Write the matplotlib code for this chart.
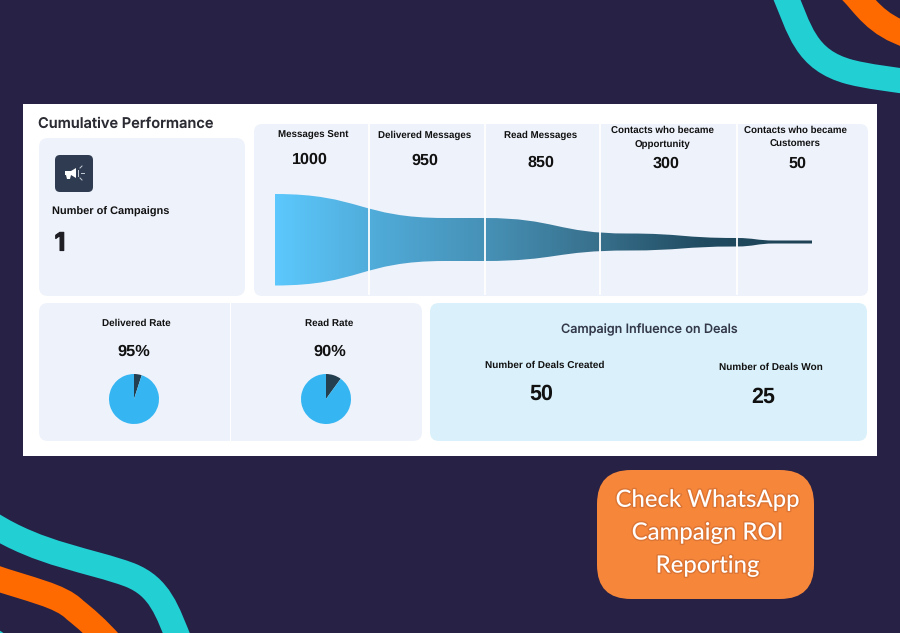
import matplotlib
matplotlib.use("Agg")
import matplotlib.pyplot as plt
import numpy as np
from matplotlib.colors import LinearSegmentedColormap
from matplotlib.patches import FancyBboxPatch, PathPatch, Rectangle
from matplotlib.path import Path
import matplotlib.patheffects as pe

plt.rcParams["text.hinting"] = "no_hinting"

# funnel
stage_labels = ["Messages Sent", "Delivered Messages", "Read Messages",
                "Contacts who became\nOpportunity", "Contacts who became\nCustomers"]
stage_values = [1000, 950, 850, 300, 50]
funnel_x = [275, 445, 484, 628, 736, 775, 812]
funnel_top = [194, 218, 218, 233.5, 238, 240.5, 240.5]
funnel_bottom = [285.5, 261, 261, 250.5, 246.5, 243.5, 243.5]
funnel_colors = ["#5CC8FD", "#4FA9D6", "#4690B5", "#38708C", "#204B61", "#1E4254"]

# rates
rate_labels = ["Delivered Rate", "Read Rate"]
rate_values = [95, 90]

# deals
deal_labels = ["Number of Deals Created", "Number of Deals Won"]
deal_values = [50, 25]

BG = "#262145"
PANEL = "#EEF2FB"
TEAL = "#22CFD3"
ORANGE = "#FF6A00"
SANS = "Liberation Sans"

fig = plt.figure(figsize=(9, 6.33), dpi=100, facecolor=BG)
ax = fig.add_axes([0, 0, 1, 1])
ax.set_xlim(0, 900)
ax.set_ylim(633, 0)
ax.axis("off")


def panel(x0, y0, x1, y1, color=PANEL, r=9, z=2):
    p = FancyBboxPatch((x0 + r, y0 + r), x1 - x0 - 2 * r, y1 - y0 - 2 * r,
                       boxstyle=f"round,pad={r},rounding_size={r}",
                       fc=color, ec="none", zorder=z)
    ax.add_patch(p)


def band(pts, color, lw):
    codes = [Path.MOVETO] + [Path.CURVE4] * (len(pts) - 1)
    ax.add_patch(PathPatch(Path(pts, codes), fc="none", ec=color, lw=lw,
                           capstyle="butt", zorder=1))


def label(x, y, s, size=7.5, color="#111111", weight="bold", family=SANS, **kw):
    ax.text(x, y, s, fontsize=size, color=color, fontweight=weight, family=family,
            ha="center", va="center", zorder=6, **kw)


# corner waves
band([(-10, 523), (40, 555), (90, 560), (130, 575), (160, 587), (167, 610), (181, 645)], TEAL, 18)
band([(-10, 576), (30, 590), (60, 595), (75, 610), (85, 618), (97, 628), (112, 645)], ORANGE, 18)
band([(-10, 637), (-4, 639), (0, 642), (6, 648)], TEAL, 14)
band([(783, -10), (800, 30), (805, 60), (850, 72), (870, 77), (890, 79), (910, 82)], TEAL, 18)
band([(850, -10), (865, 5), (875, 25), (910, 36)], ORANGE, 18)

# white card and panels
ax.add_patch(Rectangle((23, 104), 854, 352, fc="white", ec="none", zorder=1.5))
panel(39, 138, 245, 296)
panel(254, 124, 868, 296, r=8)
panel(39, 303, 422, 441)
panel(430, 303, 867, 441, color="#DAF1FB")

ax.text(38, 124, "Cumulative Performance", fontsize=10.5, color="#2B2B33",
        fontweight="semibold", family="Inter", ha="left", va="center", zorder=6)

# campaign icon
panel(55, 155, 93, 192, color="#2F3B50", r=5, z=3)
ax.fill([65, 71, 76, 76, 71, 70, 67, 66, 65], [171, 171, 168, 178, 175, 179, 179, 175, 175],
        color="white", zorder=4, lw=0)
for seg in [((78, 170), (78, 176)), ((80, 168), (82, 166)), ((81, 173), (84, 173)), ((80, 178), (82, 180))]:
    ax.plot(*zip(*seg), color="#C8CED8", lw=0.7, zorder=4)
ax.text(51.5, 212, "Number of Campaigns", fontsize=7.9, color="#111111", fontweight="bold",
        family=SANS, ha="left", va="center", zorder=6)
label(60, 244, "1", size=18, family="Inter", color="#1E1E24",
      path_effects=[pe.withStroke(linewidth=0.8, foreground="#1E1E24")])

# funnel as gradient clipped to a smooth outline
verts = [(funnel_x[0], funnel_top[0])]
codes = [Path.MOVETO]
for edge, xs in ((funnel_top, funnel_x), (funnel_bottom[::-1], funnel_x[::-1])):
    if edge is not funnel_top:
        verts.append((xs[0], edge[0]))
        codes.append(Path.LINETO)
    for i in range(len(xs) - 1):
        mid = (xs[i] + xs[i + 1]) / 2
        verts += [(mid, edge[i]), (mid, edge[i + 1]), (xs[i + 1], edge[i + 1])]
        codes += [Path.CURVE4] * 3
verts.append(verts[0])
codes.append(Path.CLOSEPOLY)
outline = PathPatch(Path(verts, codes), fc="none", ec="none", transform=ax.transData)
ax.add_patch(outline)
cmap = LinearSegmentedColormap.from_list("funnel", funnel_colors)
im = ax.imshow(np.linspace(0, 1, 256)[None, :], cmap=cmap, aspect="auto",
               extent=(275, 812, 290, 190), zorder=3)
im.set_clip_path(outline)
ax.set_xlim(0, 900)
ax.set_ylim(633, 0)

for x in [369, 485, 600, 737]:
    ax.plot([x, x], [124, 294], color="white", lw=1.3, zorder=4)
ax.plot([230, 230], [303, 441], color="white", lw=0.8, zorder=4)

label_xy = [(313, 135.5), (425, 135.5), (541, 135.5), (662, 137.5), (795, 137.5)]
value_xy = [(310, 159.5), (425, 161), (541, 163), (666, 164), (797, 164)]
for (lx, ly), (vx, vy), s, v in zip(label_xy, value_xy, stage_labels, stage_values):
    label(lx, ly, s, size=7.0, linespacing=1.6)
    label(vx, vy, str(v), size=11.6)

# rate pies
label_dx = [2, 3.5]
value_dx = [0, 4]
for cx, name, rate, ldx, vdx in zip([134, 326], rate_labels, rate_values, label_dx, value_dx):
    label(cx + ldx, 323.5, name, size=7.1)
    label(cx + vdx, 352, f"{rate}%", size=11.8)
    pie_ax = fig.add_axes([(cx - 25) / 900, 1 - 424 / 633, 50 / 900, 50 / 633], zorder=5)
    pie_ax.pie([100 - rate, rate], colors=["#243F4F", "#35B6F2"], startangle=90, counterclock=False,
               radius=1)
    pie_ax.set_xlim(-1, 1)
    pie_ax.set_ylim(-1, 1)

# deals
label(649, 329.5, "Campaign Influence on Deals", size=9.1, weight="medium", family="Inter", color="#33394A")
label(544.5, 365, deal_labels[0], size=7.2)
label(770.5, 367, deal_labels[1], size=7.2)
label(541, 394.5, str(deal_values[0]), size=15.5)
label(763, 397.5, str(deal_values[1]), size=15.5)

# call to action
panel(597, 470, 814, 599, color="#F5863A", r=34)
for y, s in zip([500, 533, 566], ["Check WhatsApp", "Campaign ROI", "Reporting"]):
    ax.text(707.5, y, s, fontsize=17.2, color="white", family="Lato", fontweight="medium",
            ha="center", va="center", zorder=6,
            path_effects=[pe.withStroke(linewidth=2, foreground="#DC7434")])

fig.savefig("out.png", dpi=100, facecolor=BG)
